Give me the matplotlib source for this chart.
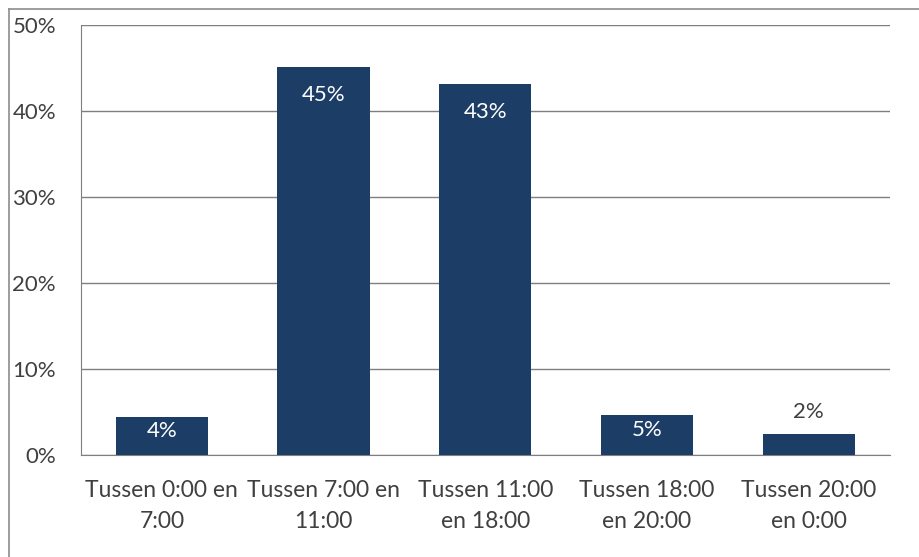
import matplotlib
matplotlib.use("Agg")
import matplotlib.pyplot as plt
from matplotlib.lines import Line2D

plt.rcParams['font.family'] = ['Lato', 'DejaVu Sans']

categories = ["Tussen 0:00 en\n7:00", "Tussen 7:00 en\n11:00", "Tussen 11:00\nen 18:00",
              "Tussen 18:00\nen 20:00", "Tussen 20:00\nen 0:00"]
values = [4.4, 45.1, 43.1, 4.7, 2.45]
yticks = [0, 10, 20, 30, 40, 50]

bar_color = "#1c3e66"
text_color = "#404040"
grid_color = "#7f7f7f"

fig = plt.figure(figsize=(9.2, 5.57), dpi=100)
ax = fig.add_axes([0.088, 0.183, 0.879, 0.772])

x = range(len(categories))
bars = ax.bar(x, values, width=0.57, color=bar_color, zorder=3)

ax.set_xlim(-0.5, len(categories) - 0.5)
ax.set_ylim(0, 50)
ax.set_yticks(yticks)
ax.set_yticklabels([f"{t}%" for t in yticks])
ax.set_xticks(list(x))
ax.set_xticklabels(categories, linespacing=1.6, fontsize=16.5)

ax.yaxis.grid(True, color=grid_color, linewidth=1.0, zorder=0)
ax.tick_params(axis='both', length=0, labelsize=16, colors=text_color)
ax.tick_params(axis='x', labelsize=16.5, pad=18)
ax.tick_params(axis='y', pad=18)

for side in ("top", "right"):
    ax.spines[side].set_visible(False)
ax.spines["left"].set_color(grid_color)
ax.spines["bottom"].set_color(grid_color)

for b, v in zip(bars, values):
    cx = b.get_x() + b.get_width() / 2
    label = f"{v:.0f}%"
    if v >= 10:
        ax.text(cx, v - 3.2, label, ha="center", va="center", color="white", fontsize=16, zorder=4)
    elif v >= 4:
        ax.text(cx, v * 0.63, label, ha="center", va="center", color="white", fontsize=16, zorder=4)
    else:
        ax.text(cx, v + 2.6, label, ha="center", va="center", color=text_color, fontsize=16, zorder=4)

# outer chart border (top and left edges)
fig.add_artist(Line2D([9 / 920, 1.0], [1 - 9 / 557, 1 - 9 / 557], transform=fig.transFigure,
                      color="#8c8c8c", linewidth=1.2))
fig.add_artist(Line2D([9 / 920, 9 / 920], [0.0, 1 - 9 / 557], transform=fig.transFigure,
                      color="#8c8c8c", linewidth=1.2))

fig.savefig("out.png", dpi=100, facecolor="white")
